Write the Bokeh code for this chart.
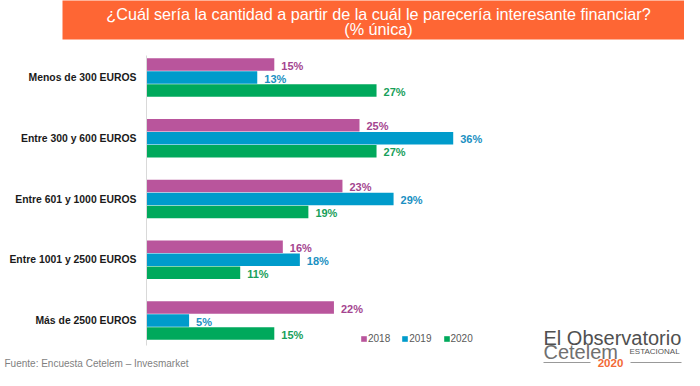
from bokeh.plotting import figure
from bokeh.models import (ColumnDataSource, Range1d, Label, BoxAnnotation, Legend, LegendItem)
from bokeh.embed import file_html
from bokeh.resources import INLINE
from bokeh.core.properties import value

# ---- data ----
categories = ["Menos de 300 EUROS", "Entre 300 y 600 EUROS", "Entre 601 y 1000 EUROS",
              "Entre 1001 y 2500 EUROS", "Más de 2500 EUROS"]
years = ["2018", "2019", "2020"]
v2018 = [15, 25, 23, 16, 22]
v2019 = [13, 36, 29, 18, 5]
v2020 = [27, 27, 19, 11, 15]
series = [v2018, v2019, v2020]

title_lines = ["¿Cuál sería la cantidad a partir de la cuál le parecería interesante financiar?",
               "(% única)"]
source_note = "Fuente: Encuesta Cetelem – Invesmarket"

# ---- style ----
bar_colors = ["#b9559c", "#009bcb", "#00a95c"]
text_colors = ["#a4458f", "#1a90c2", "#18a05a"]
FONT = "Liberation Sans"
W, H = 684, 370

n = len(categories)
ypos = [n - 1 - i for i in range(n)]
offsets = [0.214, 0.0, -0.214]

p = figure(width=W, height=H, output_backend="svg", toolbar_location=None,
           x_range=Range1d(-17.136, 63.146), y_range=Range1d(-0.823, 5.2675),
           min_border=0, min_border_left=0, min_border_right=0,
           min_border_top=0, min_border_bottom=0)
p.xaxis.visible = False
p.yaxis.visible = False
p.xgrid.visible = False
p.ygrid.visible = False
p.outline_line_color = None
p.background_fill_color = "white"
p.border_fill_color = "white"


def box(l, r, b, t, color):
    return BoxAnnotation(left=l, right=r, bottom=b, top=t,
                         left_units="screen", right_units="screen",
                         bottom_units="screen", top_units="screen",
                         fill_color=color, fill_alpha=1, line_color=None)


# title banner
p.add_layout(box(62, 700, 331, 380, "#fe6634"))
for t, yy in zip(title_lines, [357, 342]):
    p.add_layout(Label(x=378, y=yy, x_units="screen", y_units="screen", text=t,
                       text_align="center", text_baseline="middle",
                       text_font=FONT, text_font_size="16.2px", text_color="white"))

# category axis line
p.add_layout(box(145.5, 146.5, 25, 315, "#d9d9d9"))

# category labels
cat_src = ColumnDataSource(dict(y=ypos, x=[0] * n, name=categories))
p.text(x="x", y="y", text="name", source=cat_src, x_offset=-10,
       text_align="right", text_baseline="middle", text_font=value(FONT),
       text_font_style="bold", text_font_size="10.4px", text_color="#1a1a1a")

renderers = []
for j, vals in enumerate(series):
    src = ColumnDataSource(dict(
        y=[yp + offsets[j] for yp in ypos],
        v=vals,
        lbl=[f"{v}%" for v in vals],
    ))
    r = p.hbar(y="y", left=0, right="v", height=0.205, source=src,
               fill_color=bar_colors[j], line_color=None)
    renderers.append(r)
    p.text(x="v", y="y", text="lbl", source=src, x_offset=7, y_offset=1,
           text_baseline="middle", text_align="left",
           text_font=value(FONT), text_font_style="bold",
           text_font_size="11px", text_color=text_colors[j])

legend = Legend(items=[LegendItem(label=yr, renderers=[r]) for yr, r in zip(years, renderers)],
                orientation="horizontal", location=(360, 26),
                glyph_width=7, glyph_height=7, label_standoff=1, spacing=11,
                padding=0, margin=0, label_height=12,
                border_line_color=None, background_fill_alpha=0,
                label_text_font=FONT, label_text_font_size="10px",
                label_text_color="#595959")
p.add_layout(legend)

# footer
p.add_layout(Label(x=4, y=7, x_units="screen", y_units="screen", text=source_note,
                   text_baseline="middle", text_font=FONT, text_font_size="10px",
                   text_color="#7f7f7f"))

# logo
p.add_layout(Label(x=543, y=33, x_units="screen", y_units="screen", text="El Observatorio",
                   text_baseline="alphabetic", text_font=FONT, text_font_size="20px",
                   text_color="#505050"))
p.add_layout(Label(x=543, y=19, x_units="screen", y_units="screen", text="Cetelem",
                   text_baseline="alphabetic", text_font=FONT, text_font_size="20px",
                   text_color="#707070"))
p.add_layout(Label(x=629, y=19, x_units="screen", y_units="screen", text="ESTACIONAL",
                   text_baseline="alphabetic", text_font=FONT, text_font_size="8px",
                   text_color="#555555"))
p.add_layout(Label(x=610, y=8, x_units="screen", y_units="screen", text="2020",
                   text_align="center", text_baseline="middle", text_font=FONT,
                   text_font_style="bold", text_font_size="11.5px", text_color="#f26a36"))
for l, r in [(543, 590), (630, 681)]:
    p.add_layout(box(l, r, 7.5, 8.5, "#999999"))

open("out.html", "w").write(file_html(p, INLINE))
